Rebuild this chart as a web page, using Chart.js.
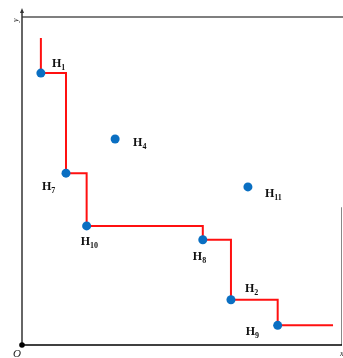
<!DOCTYPE html>
<html>
<head>
<meta charset="utf-8">
<script src="https://cdn.jsdelivr.net/npm/chart.js@4"></script>
<style>
    body { margin: 0; background: #fff; }
    #box { width: 343px; height: 358px; }
</style>
</head>
<body>
<div id="box"><canvas id="chart"></canvas></div>
<script>
// points H_i
const pointNames = ["1", "2", "4", "7", "8", "9", "10", "11"];
const pointX = [0.59, 6.53, 2.91, 1.375, 5.65, 7.99, 2.02, 7.06];
const pointY = [8.29, 1.38, 6.28, 5.24, 3.21, 0.60, 3.63, 4.82];

// staircase (red)
const stairX = [0.59, 0.59, 1.375, 2.02, 5.65, 6.53, 7.99, 9.72];
const stairY = [9.36, 8.29, 5.24, 3.63, 3.21, 1.38, 0.60, 0.60];

// label offsets in px from each point (style only)
const labelDx = [11, 14, 18, -24, -10, -32, -6, 17];
const labelDy = [-6, -8, 7, 17, 20, 10, 19, 10];

const pts = pointX.map((x, i) => ({ x: x, y: pointY[i] }));
const stair = stairX.map((x, i) => ({ x: x, y: stairY[i] }));

const decor = {
    id: "decor",
    beforeDatasetsDraw(chart) {
        const c = chart.ctx;
        const sx = chart.scales.x, sy = chart.scales.y;
        const x0 = sx.getPixelForValue(0), x1 = sx.getPixelForValue(10);
        const y0 = sy.getPixelForValue(0), y1 = sy.getPixelForValue(10);
        c.save();
        // top frame line
        c.strokeStyle = "#555";
        c.lineWidth = 1.5;
        c.beginPath();
        c.moveTo(x0, y1);
        c.lineTo(343, y1);
        c.stroke();
        // right frame line (partial)
        c.strokeStyle = "#888";
        c.lineWidth = 1;
        c.beginPath();
        c.moveTo(x1 - 0.5, sy.getPixelForValue(4.2));
        c.lineTo(x1 - 0.5, y0);
        c.stroke();
        // y axis
        c.strokeStyle = "#333";
        c.lineWidth = 1.5;
        c.beginPath();
        c.moveTo(x0, y0);
        c.lineTo(x0, y1 - 6);
        c.stroke();
        c.fillStyle = "#333";
        c.beginPath();
        c.moveTo(x0, y1 - 9);
        c.lineTo(x0 - 2, y1 - 4);
        c.lineTo(x0 + 2, y1 - 4);
        c.closePath();
        c.fill();
        // x axis
        c.strokeStyle = "#000";
        c.beginPath();
        c.moveTo(x0, y0);
        c.lineTo(x1, y0);
        c.stroke();
        // origin dot
        c.fillStyle = "#000";
        c.beginPath();
        c.arc(x0, y0, 2.8, 0, Math.PI * 2);
        c.fill();
        // axis letters
        c.font = "italic 11px 'Liberation Serif'";
        c.fillStyle = "#222";
        c.fillText("O", x0 - 9, y0 + 12);
        c.font = "italic 8px 'Liberation Serif'";
        c.fillText("x", x1 - 2, y0 + 11);
        c.save();
        c.translate(x0 - 4, y1 + 5);
        c.rotate(-Math.PI / 2);
        c.fillText("y", 0, 0);
        c.restore();
        c.restore();
    },
    afterDatasetsDraw(chart) {
        const c = chart.ctx;
        const meta = chart.getDatasetMeta(1);
        c.save();
        c.fillStyle = "#111";
        meta.data.forEach((el, i) => {
            const lx = el.x + labelDx[i];
            const ly = el.y + labelDy[i];
            c.font = "bold 12px 'Liberation Serif'";
            c.fillText("H", lx, ly);
            const w = c.measureText("H").width;
            c.font = "bold 8px 'Liberation Serif'";
            c.fillText(pointNames[i], lx + w, ly + 3);
        });
        c.restore();
    }
};

new Chart(document.getElementById("chart"), {
    type: "scatter",
    data: {
        datasets: [
            {
                data: stair,
                showLine: true,
                stepped: "before",
                borderColor: "#ff1010",
                borderWidth: 2,
                pointRadius: 0,
                fill: false,
                order: 2
            },
            {
                data: pts,
                pointRadius: 4.5,
                pointBackgroundColor: "#0a6fc2",
                pointBorderWidth: 0,
                showLine: false,
                order: 1
            }
        ]
    },
    options: {
        responsive: true,
        maintainAspectRatio: false,
        animation: false,
        layout: { autoPadding: false, padding: { left: 22, right: 1, top: 17, bottom: 13 } },
        plugins: { legend: { display: false }, tooltip: { enabled: false } },
        scales: {
            x: { type: "linear", min: 0, max: 10, display: false },
            y: { type: "linear", min: 0, max: 10, display: false }
        }
    },
    plugins: [decor]
});
</script>
</body>
</html>
